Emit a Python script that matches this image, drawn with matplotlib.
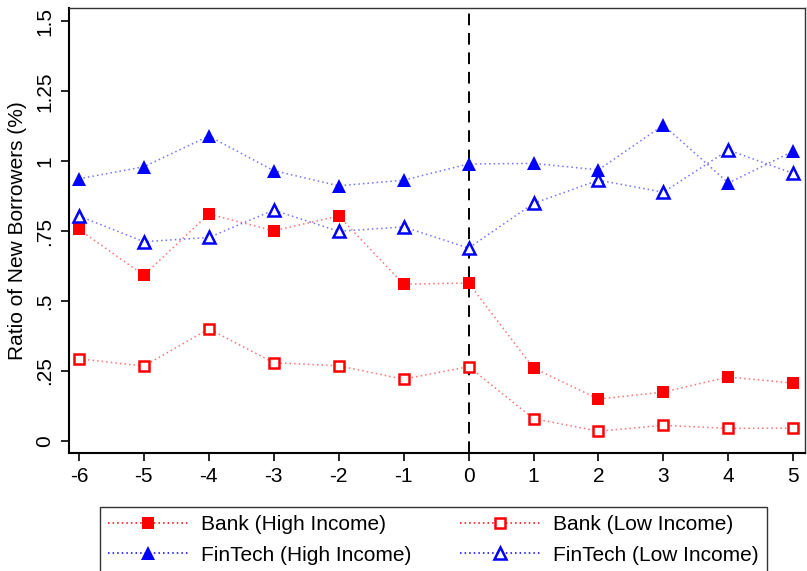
import matplotlib
matplotlib.use("Agg")
import matplotlib.pyplot as plt
from matplotlib.lines import Line2D

plt.rcParams['font.family'] = ['Liberation Sans', 'DejaVu Sans']

periods = [-6, -5, -4, -3, -2, -1, 0, 1, 2, 3, 4, 5]
bank_high = [0.756, 0.592, 0.811, 0.751, 0.804, 0.560, 0.564, 0.260, 0.149, 0.174, 0.228, 0.206]
bank_low = [0.293, 0.267, 0.400, 0.279, 0.268, 0.220, 0.265, 0.079, 0.034, 0.055, 0.044, 0.045]
fintech_high = [0.937, 0.980, 1.090, 0.966, 0.912, 0.932, 0.990, 0.992, 0.969, 1.129, 0.922, 1.036]
fintech_low = [0.804, 0.712, 0.727, 0.825, 0.749, 0.765, 0.689, 0.849, 0.932, 0.889, 1.040, 0.956]

y_ticks = [0, 0.25, 0.5, 0.75, 1.0, 1.25, 1.5]
y_tick_labels = ['0', '.25', '.5', '.75', '1', '1.25', '1.5']

W, H = 807, 571
FS = 15
fig = plt.figure(figsize=(W / 100, H / 100), dpi=100)
ax = fig.add_axes([68.5 / W, (H - 453) / H, (805 - 68.5) / W, (453 - 8) / H])

RED = '#ff0000'
BLUE = '#0000ff'
line_kw = dict(linestyle=(0, (1, 2)), linewidth=1.1)

series = [
    ('Bank (High Income)', bank_high, RED, 's', True, 9),
    ('FinTech (High Income)', fintech_high, BLUE, '^', True, 10.5),
    ('Bank (Low Income)', bank_low, RED, 's', False, 7.5),
    ('FinTech (Low Income)', fintech_low, BLUE, '^', False, 9),
]

handles = []
for label, vals, col, mk, filled, ms in series:
    ax.plot(periods, vals, color=col, alpha=0.55, zorder=2, **line_kw)
    ax.plot(periods, vals, linestyle='none', marker=mk, markersize=ms,
            markerfacecolor=col if filled else 'white', markeredgecolor=col,
            markeredgewidth=0 if filled else 1.8, zorder=3)
    handles.append(Line2D([], [], color=col, marker=mk, markersize=ms,
                          markerfacecolor=col if filled else 'white',
                          markeredgecolor=col,
                          markeredgewidth=0 if filled else 1.8,
                          linestyle=(0, (1, 2)), linewidth=1.1,
                          label=label))

ax.axvline(0, color='black', linestyle=(0, (6, 4)), linewidth=1.4, zorder=1)

ax.set_xlim(-6.16, 5.18)
ax.set_ylim(-0.044, 1.548)
ax.set_xticks(periods)
ax.set_xticklabels([str(p) for p in periods])
ax.set_yticks(y_ticks)
ax.set_yticklabels(y_tick_labels, rotation=90, va='center')

ax.tick_params(axis='both', direction='out', length=6, width=1.2,
               labelsize=FS, color='black', pad=4)
ax.set_ylabel('Ratio of New Borrowers (%)', fontsize=FS, labelpad=6)

for side in ['left', 'bottom']:
    ax.spines[side].set_linewidth(1.5)
    ax.spines[side].set_color('black')
for side in ['top', 'right']:
    ax.spines[side].set_linewidth(1.0)
    ax.spines[side].set_color('#333333')

leg = fig.legend(handles=handles, ncol=2, loc='lower left',
                 bbox_to_anchor=(100 / W, -2 / H),
                 fontsize=FS, frameon=True, fancybox=False,
                 handlelength=3.85, handletextpad=0.62, columnspacing=2.3,
                 borderaxespad=0, labelspacing=0.55, borderpad=0.4)
leg.get_frame().set_edgecolor('black')
leg.get_frame().set_linewidth(1.0)

fig.savefig('out.png', dpi=100)
